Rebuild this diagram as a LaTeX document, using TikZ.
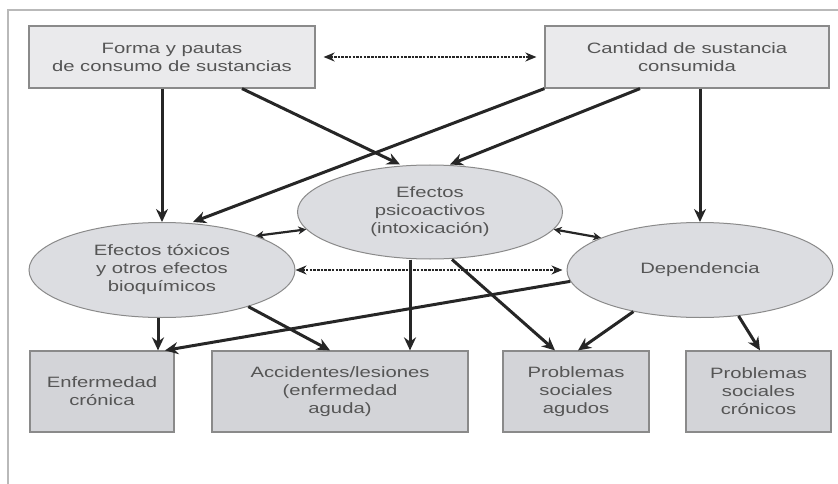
\documentclass[tikz,border=0pt]{standalone}
\usepackage{fontspec}
\setmainfont{Liberation Sans}[FakeStretch=1.35]
\usetikzlibrary{shapes.geometric,arrows.meta}
\definecolor{txt}{HTML}{555555}
\definecolor{topfill}{HTML}{EAEAEC}
\definecolor{ellfill}{HTML}{DCDDE1}
\definecolor{botfill}{HTML}{D3D4D8}
\definecolor{edge}{HTML}{8A8A8A}
\definecolor{ink}{HTML}{262626}
\tikzset{
  lbl/.style={text=txt, font=\fontsize{15}{18}\selectfont, align=center, inner sep=0pt},
  topbox/.style={lbl, draw=edge, line width=1.2pt, fill=topfill, rectangle},
  ellbox/.style={lbl, draw=edge, line width=1pt, fill=ellfill, ellipse},
  botbox/.style={lbl, draw=edge, line width=1.2pt, fill=botfill, rectangle},
  conn/.style={draw=ink, line width=3pt, -{Stealth[length=13pt,width=12pt]}},
  twoway/.style={draw=ink, line width=2.2pt, {Stealth[length=8pt,width=8pt]}-{Stealth[length=8pt,width=8pt]}},
  dashconn/.style={draw=ink, line width=2.6pt, dash pattern=on 2.5pt off 1.2pt, {Stealth[length=11pt,width=9pt]}-{Stealth[length=11pt,width=9pt]}}
}
\begin{document}
\begin{tikzpicture}[x=1pt,y=-1pt]
\useasboundingbox (0,0) rectangle (838,484);
\draw[gray!55, line width=2pt] (8,484) -- (8,10) -- (838,10);

\node[topbox, minimum width=286pt, minimum height=62pt] (tl) at (172,57) {Forma y pautas\\de consumo de sustancias};
\node[topbox, minimum width=284pt, minimum height=62pt] (tr) at (687,57) {Cantidad de sustancia\\consumida};

\node[ellbox, minimum width=266pt, minimum height=95pt] (tox) at (162,270) {Efectos tóxicos\\y otros efectos\\bioquímicos};
\node[ellbox, minimum width=265pt, minimum height=94pt] (psi) at (430,212) {Efectos\\psicoactivos\\(intoxicación)};
\node[ellbox, minimum width=266pt, minimum height=95pt] (dep) at (700,270) {Dependencia};

\node[botbox, minimum width=144pt, minimum height=81pt] (enf) at (102,391.5) {Enfermedad\\crónica};
\node[botbox, minimum width=256pt, minimum height=81pt] (acc) at (340,391.5) {Accidentes/lesiones\\(enfermedad\\aguda)};
\node[botbox, minimum width=146pt, minimum height=81pt] (psa) at (576,391.5) {Problemas\\sociales\\agudos};
\node[botbox, minimum width=145pt, minimum height=81pt] (psc) at (758.5,391.5) {Problemas\\sociales\\crónicos};

% top dashed two-way
\draw[dashconn, shorten <=8pt, shorten >=8pt] (tl.east) -- (tr.west);

% from top boxes
\draw[conn] ([xshift=-10pt]tl.south) -- (tox.north);
\draw[conn] ([xshift=70pt]tl.south) -- ([xshift=-30pt]psi.north);
\draw[conn] (tr.south west) -- ([xshift=31pt]tox.north);
\draw[conn] ([xshift=-47pt]tr.south) -- ([xshift=20pt]psi.north);
\draw[conn] ([xshift=13pt]tr.south) -- (dep.north);

% between ellipses
\draw[twoway] (tox.20) -- (psi.188);
\draw[twoway] (psi.-8) -- (dep.162);
\draw[dashconn, shorten >=4pt] (tox.east) -- (dep.west);

% to bottom boxes
\draw[conn] ([xshift=-4pt]tox.south) -- ([xshift=56pt]enf.north);
\draw[conn] (tox.-23.5) -- ([xshift=-10pt]acc.north);
\draw[conn] (dep.185) -- ([xshift=63pt]enf.north);
\draw[conn] ([xshift=-20pt]psi.south) -- ([xshift=70pt]acc.north);
\draw[conn] ([xshift=22pt]psi.south) -- ([xshift=-21pt]psa.north);
\draw[conn] (dep.212) -- ([xshift=2pt]psa.north);
\draw[conn] (dep.-50) -- ([xshift=1.5pt]psc.north);
\end{tikzpicture}
\end{document}
